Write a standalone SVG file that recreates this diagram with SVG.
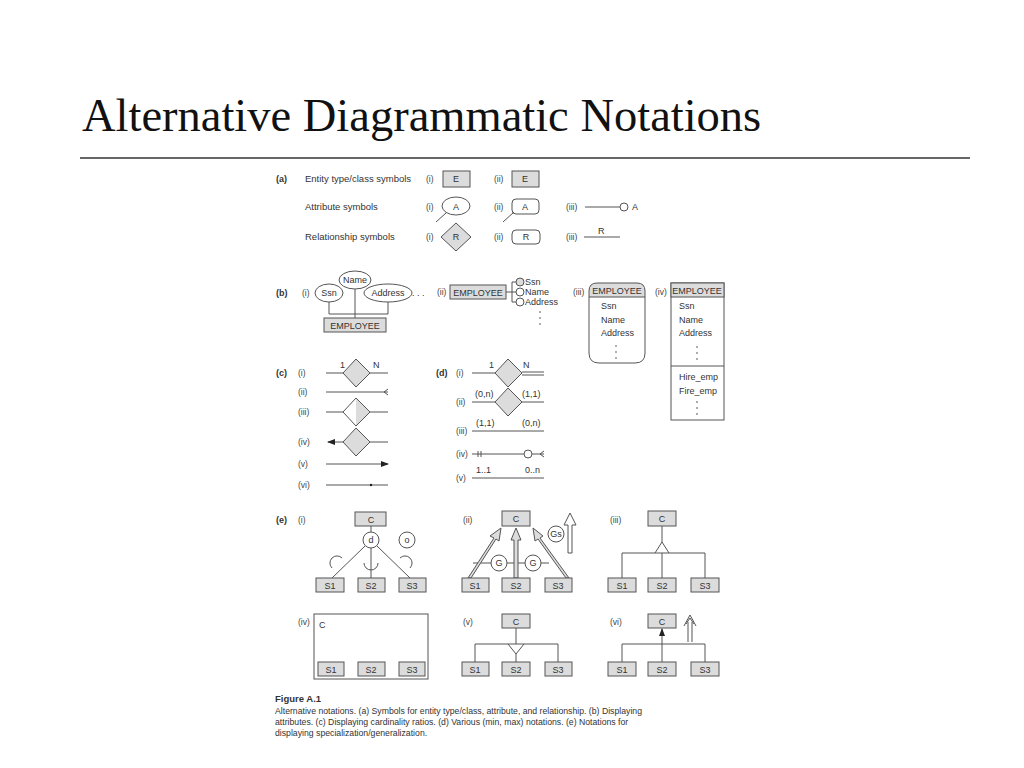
<svg xmlns="http://www.w3.org/2000/svg" width="1024" height="768" viewBox="0 0 1024 768">
<style>
text{font-family:"Liberation Sans",Arial,sans-serif;font-size:9px;fill:#333}
.t{font-size:9.5px}
.lb{font-size:8.5px;fill:#444}
.b{font-weight:bold}
.g{fill:#dcdcdc;stroke:#555;stroke-width:1}
.w{fill:#fff;stroke:#555;stroke-width:1}
.l{fill:none;stroke:#555;stroke-width:1}
.c{text-anchor:middle}
.dot{fill:#444}
</style>
<defs>
<marker id="ah" markerWidth="8" markerHeight="6" refX="7" refY="3" orient="auto"><path d="M0,0L8,3L0,6z" fill="#222"/></marker>
</defs>
<rect width="1024" height="768" fill="#fff"/>
<text x="82" y="131" style="font-family:'Liberation Serif',serif;font-size:46.5px;fill:#111">Alternative Diagrammatic Notations</text>
<line x1="80" y1="158" x2="970" y2="158" stroke="#333" stroke-width="1.5"/>

<g id="a">
<text x="276" y="182" class="b">(a)</text>
<text x="305" y="182" class="t">Entity type/class symbols</text>
<text x="426" y="182" class="lb">(i)</text><rect x="443" y="171" width="27" height="16" class="g"/><text x="456" y="182" class="c">E</text>
<text x="494" y="182" class="lb">(ii)</text><rect x="512" y="171" width="27" height="16" class="g"/><text x="525" y="182" class="c">E</text>
<text x="305" y="210" class="t">Attribute symbols</text>
<text x="426" y="210" class="lb">(i)</text><ellipse cx="456" cy="206" rx="14" ry="9" class="w"/><text x="456" y="210" class="c">A</text><line x1="446" y1="213" x2="436" y2="222" class="l"/>
<text x="494" y="210" class="lb">(ii)</text><rect x="512" y="199" width="27" height="15" rx="4" class="w"/><text x="525" y="210" class="c">A</text><line x1="514" y1="212" x2="503" y2="222" class="l"/>
<text x="566" y="210" class="lb">(iii)</text><line x1="585" y1="207" x2="620" y2="207" class="l"/><circle cx="624" cy="207" r="4" class="w"/><text x="632" y="210">A</text>
<text x="305" y="240" class="t">Relationship symbols</text>
<text x="426" y="240" class="lb">(i)</text><path d="M441,237L456,223L471,237L456,251z" class="g"/><text x="456" y="240" class="c">R</text>
<text x="494" y="240" class="lb">(ii)</text><rect x="512" y="230" width="28" height="14" rx="4" class="w"/><text x="526" y="240" class="c">R</text>
<text x="566" y="240" class="lb">(iii)</text><text x="598" y="234">R</text><line x1="584" y1="237" x2="620" y2="237" class="l"/>
</g>

<g id="b">
<text x="276" y="296" class="b">(b)</text><text x="302" y="296" class="lb">(i)</text>
<path d="M329,302V314H388V302M355,289V318" class="l"/>
<ellipse cx="329" cy="293" rx="14" ry="9" class="w"/><text x="329" y="296" class="c">Ssn</text>
<ellipse cx="355" cy="280" rx="16" ry="9" class="w"/><text x="355" y="283" class="c">Name</text>
<ellipse cx="388" cy="293" rx="24" ry="9" class="w"/><text x="388" y="296" class="c">Address</text>
<text x="412" y="296">. . .</text>
<rect x="324" y="318" width="62" height="14" class="g"/><text x="355" y="329" class="c">EMPLOYEE</text>
<text x="437" y="295" class="lb">(ii)</text>
<rect x="450" y="285" width="56" height="14" class="g"/><text x="478" y="296" class="c">EMPLOYEE</text>
<path d="M506,292H512M512,282V302M512,282H516M512,292H516M512,302H516" class="l"/>
<circle cx="520" cy="282" r="4" class="g"/><circle cx="520" cy="292" r="4" class="w"/><circle cx="520" cy="302" r="4" class="w"/>
<text x="525" y="285">Ssn</text><text x="525" y="295">Name</text><text x="525" y="305">Address</text>
<circle cx="540" cy="312" r="0.8" class="dot"/><circle cx="540" cy="318" r="0.8" class="dot"/><circle cx="540" cy="324" r="0.8" class="dot"/>
<text x="573" y="295" class="lb">(iii)</text>
<path d="M589,297V353Q589,363 599,363H635Q645,363 645,353V297" class="w"/>
<path d="M589,297V291Q589,283 597,283H637Q645,283 645,291V297z" class="g"/>
<text x="617" y="294" class="c">EMPLOYEE</text>
<text x="601" y="309">Ssn</text><text x="601" y="323">Name</text><text x="601" y="336">Address</text>
<circle cx="616" cy="346" r="0.8" class="dot"/><circle cx="616" cy="352" r="0.8" class="dot"/><circle cx="616" cy="358" r="0.8" class="dot"/>
<text x="655" y="295" class="lb">(iv)</text>
<rect x="671" y="283" width="53" height="137" class="w"/><rect x="671" y="283" width="53" height="14" class="g"/>
<text x="697" y="294" class="c">EMPLOYEE</text>
<text x="679" y="309">Ssn</text><text x="679" y="323">Name</text><text x="679" y="336">Address</text>
<circle cx="697" cy="347" r="0.8" class="dot"/><circle cx="697" cy="353" r="0.8" class="dot"/><circle cx="697" cy="359" r="0.8" class="dot"/>
<line x1="671" y1="366" x2="724" y2="366" class="l"/>
<text x="679" y="380">Hire_emp</text><text x="679" y="394">Fire_emp</text>
<circle cx="697" cy="402" r="0.8" class="dot"/><circle cx="697" cy="408" r="0.8" class="dot"/><circle cx="697" cy="414" r="0.8" class="dot"/>
</g>

<g id="c">
<text x="276" y="376" class="b">(c)</text>
<text x="298" y="376" class="lb">(i)</text><path d="M326,373H343M370,373H388" class="l"/><path d="M343,373L356,359L370,373L356,387z" class="g"/><text x="340" y="368">1</text><text x="373" y="368">N</text>
<text x="298" y="395" class="lb">(ii)</text><path d="M326,392H388M388,389L384,392L388,395" class="l"/>
<text x="298" y="415" class="lb">(iii)</text><path d="M326,412H343M370,412H388" class="l"/><path d="M356,398L370,412L356,426z" fill="#dcdcdc"/><path d="M343,412L356,398L370,412L356,426z" fill="none" stroke="#555"/>
<text x="298" y="445" class="lb">(iv)</text><line x1="343" y1="442" x2="328" y2="442" class="l" marker-end="url(#ah)"/><path d="M370,442H388" class="l"/><path d="M343,442L356,428L370,442L356,456z" class="g"/>
<text x="298" y="467" class="lb">(v)</text><line x1="326" y1="464" x2="388" y2="464" class="l" marker-end="url(#ah)"/>
<text x="298" y="488" class="lb">(vi)</text><line x1="326" y1="485" x2="388" y2="485" class="l"/><circle cx="371" cy="485" r="1.2" fill="#222"/>
</g>

<g id="d">
<text x="436" y="376" class="b">(d)</text>
<text x="456" y="376" class="lb">(i)</text><path d="M472,373H495" class="l"/><path d="M522,372H544M522,375H544" class="l"/><path d="M495,373L508,359L522,373L508,387z" class="g"/><text x="489" y="368">1</text><text x="523" y="368">N</text>
<text x="456" y="405" class="lb">(ii)</text><path d="M472,402H495M522,402H544" class="l"/><path d="M495,402L508,388L522,402L508,416z" class="g"/><text x="475" y="397">(0,n)</text><text x="522" y="397">(1,1)</text>
<text x="456" y="434" class="lb">(iii)</text><path d="M472,431H544" class="l"/><text x="476" y="426">(1,1)</text><text x="522" y="426">(0,n)</text>
<text x="456" y="457" class="lb">(iv)</text><path d="M472,454H524M532,454H544M478,451V457M481,451V457M544,451L540,454L544,457" class="l"/><circle cx="528" cy="454" r="4" class="w"/>
<text x="456" y="481" class="lb">(v)</text><path d="M472,478H544" class="l"/><text x="476" y="473">1..1</text><text x="525" y="473">0..n</text>
</g>

<g id="e">
<text x="276" y="523" class="b">(e)</text>
<text x="298" y="523" class="lb">(i)</text>
<rect x="355" y="512" width="31" height="14" class="g"/><text x="371" y="523" class="c">C</text>
<path d="M371,526V532M365,546L332,578M371,548V578M377,546L410,578" class="l"/>
<path d="M342,558a7,7 0 0 0 -10,10M364,563a7,7 0 0 0 14,0M400,558a7,7 0 0 1 10,10" class="l"/>
<circle cx="371" cy="540" r="8" class="w"/><text x="371" y="543" class="c">d</text>
<circle cx="407" cy="540" r="8" class="w"/><text x="407" y="543" class="c">o</text>
<rect x="316" y="578" width="28" height="14" class="g"/><text x="330" y="589" class="c">S1</text>
<rect x="358" y="578" width="27" height="14" class="g"/><text x="371" y="589" class="c">S2</text>
<rect x="399" y="578" width="27" height="14" class="g"/><text x="412" y="589" class="c">S3</text>

<text x="463" y="523" class="lb">(ii)</text>
<rect x="502" y="511" width="28" height="15" class="g"/><text x="516" y="522" class="c">C</text>
<path d="M473,563H549" class="l"/>
<path d="M468,578L494,538L490,536L501,528L499,541L496,539L471,578z" class="g"/>
<path d="M514,578V540H511L516,528L521,540H518V578z" class="g"/>
<path d="M566,578L538,539L535,541L533,528L543,536L540,538L569,578z" class="g"/>
<circle cx="499" cy="563" r="8" class="w"/><text x="499" y="566" class="c">G</text>
<circle cx="533" cy="563" r="8" class="w"/><text x="533" y="566" class="c">G</text>
<circle cx="556" cy="534" r="8" class="w"/><text x="556" y="537" class="c">Gs</text>
<path d="M568,553V525H564L570,513L576,525H572V553z" class="w"/>
<rect x="462" y="578" width="27" height="14" class="g"/><text x="475" y="589" class="c">S1</text>
<rect x="502" y="578" width="28" height="14" class="g"/><text x="516" y="589" class="c">S2</text>
<rect x="545" y="578" width="27" height="14" class="g"/><text x="558" y="589" class="c">S3</text>

<text x="610" y="523" class="lb">(iii)</text>
<rect x="648" y="511" width="28" height="15" class="g"/><text x="662" y="522" class="c">C</text>
<path d="M662,526V542M622,578V553H705V578M662,553V578M655,553L662,542L669,553" class="l"/>
<rect x="608" y="578" width="28" height="14" class="g"/><text x="622" y="589" class="c">S1</text>
<rect x="648" y="578" width="28" height="14" class="g"/><text x="662" y="589" class="c">S2</text>
<rect x="691" y="578" width="28" height="14" class="g"/><text x="705" y="589" class="c">S3</text>

<text x="298" y="625" class="lb">(iv)</text>
<rect x="314" y="614" width="114" height="65" class="w"/><text x="319" y="628">C</text>
<rect x="318" y="662" width="26" height="14" class="g"/><text x="331" y="673" class="c">S1</text>
<rect x="358" y="662" width="27" height="14" class="g"/><text x="371" y="673" class="c">S2</text>
<rect x="399" y="662" width="26" height="14" class="g"/><text x="412" y="673" class="c">S3</text>

<text x="463" y="625" class="lb">(v)</text>
<rect x="502" y="614" width="28" height="14" class="g"/><text x="516" y="625" class="c">C</text>
<path d="M516,628V644M475,662V644H558V662M516,654V662M508,644L516,654L524,644" class="l"/>
<rect x="462" y="662" width="27" height="14" class="g"/><text x="475" y="673" class="c">S1</text>
<rect x="502" y="662" width="28" height="14" class="g"/><text x="516" y="673" class="c">S2</text>
<rect x="545" y="662" width="27" height="14" class="g"/><text x="558" y="673" class="c">S3</text>

<text x="610" y="625" class="lb">(vi)</text>
<rect x="648" y="614" width="28" height="14" class="g"/><text x="662" y="625" class="c">C</text>
<path d="M622,662V644H705V662" class="l"/>
<line x1="662" y1="662" x2="662" y2="629" class="l" marker-end="url(#ah)"/>
<path d="M688,642V622M692,642V622M684,626L690,615L696,626M686,624L690,618L694,624" class="l"/>
<rect x="608" y="662" width="28" height="14" class="g"/><text x="622" y="673" class="c">S1</text>
<rect x="648" y="662" width="28" height="14" class="g"/><text x="662" y="673" class="c">S2</text>
<rect x="691" y="662" width="28" height="14" class="g"/><text x="705" y="673" class="c">S3</text>
</g>

<g id="caption">
<text x="275" y="702" class="b" style="font-size:9.5px">Figure A.1</text>
<text x="275" y="714" style="font-size:8.7px">Alternative notations. (a) Symbols for entity type/class, attribute, and relationship. (b) Displaying</text>
<text x="275" y="725" style="font-size:8.7px">attributes. (c) Displaying cardinality ratios. (d) Various (min, max) notations. (e) Notations for</text>
<text x="275" y="736" style="font-size:8.7px">displaying specialization/generalization.</text>
</g>
</svg>
